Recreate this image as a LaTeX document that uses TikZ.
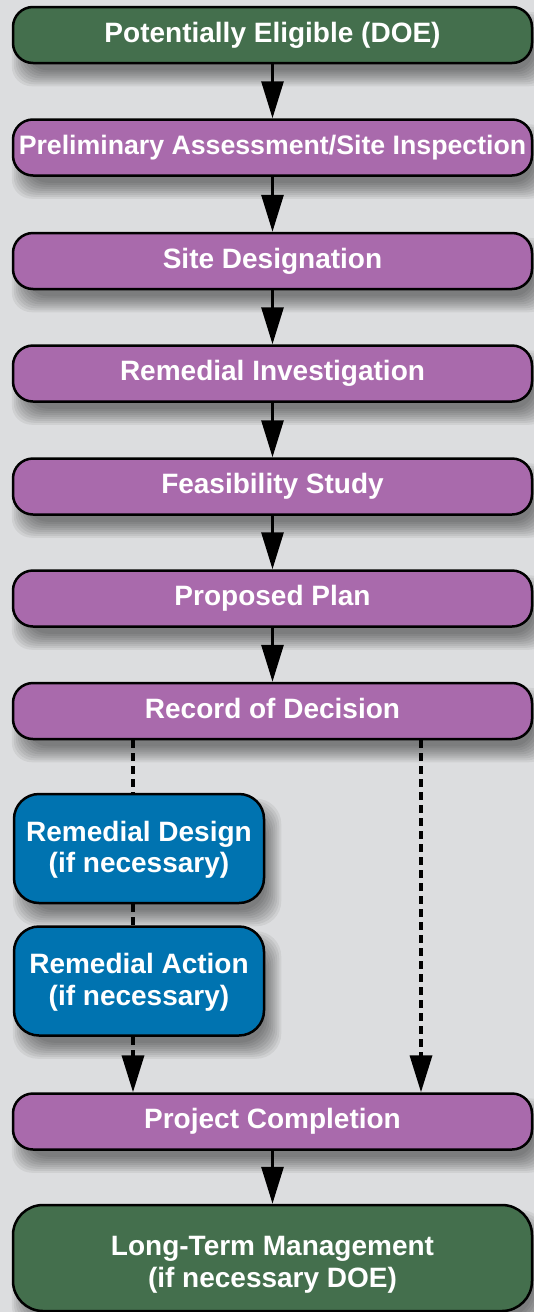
\documentclass[tikz,border=0pt]{standalone}
\usepackage{fontspec}
\setmainfont{Liberation Sans}
\usetikzlibrary{arrows.meta,backgrounds}
\definecolor{bgc}{HTML}{DCDDDF}
\definecolor{gbox}{HTML}{446F4D}
\definecolor{pbox}{HTML}{A96AAC}
\definecolor{bbox}{HTML}{0073B0}
\tikzset{
  boxbase/.style={draw=black, line width=2.5pt, text=white, font=\bfseries\fontsize{28}{31.5}\selectfont, align=center, inner sep=0pt},
  onel/.style={text height=21pt, text depth=7pt},
  pstep/.style={boxbase, onel, fill=pbox, rounded corners=20pt, minimum width=519pt, minimum height=56pt},
  gstep/.style={boxbase, fill=gbox, rounded corners=20pt, minimum width=519pt, minimum height=56pt},
  bstep/.style={boxbase, fill=bbox, rounded corners=25pt, minimum width=250pt, minimum height=109pt, text height=50pt, text depth=2pt},
  arr/.style={line width=3pt, -{Triangle[length=37pt,width=22pt]}},
  dline/.style={line width=3.5pt, dash pattern=on 8pt off 5pt},
  darr/.style={dline, -{Triangle[length=37pt,width=22pt]}}
}
\begin{document}
\begin{tikzpicture}[x=1pt,y=1pt]
\useasboundingbox (0,0) rectangle (534,-1312);
\node[gstep, onel] (n0) at (272.5,-35) {Potentially Eligible (DOE)};
\node[pstep, font=\bfseries\fontsize{26.7}{30}\selectfont] (n1) at (272.5,-147.5) {Preliminary Assessment/Site Inspection};
\node[pstep] (n2) at (272.5,-261) {Site Designation};
\node[pstep] (n3) at (272.5,-373.5) {Remedial Investigation};
\node[pstep] (n4) at (272.5,-486.5) {Feasibility Study};
\node[pstep] (n5) at (272.5,-598.5) {Proposed Plan};
\node[pstep] (n6) at (272.5,-711) {Record of Decision};
\node[bstep] (rd) at (139,-848.5) {Remedial Design\\(if necessary)};
\node[bstep] (ra) at (139,-981) {Remedial Action\\(if necessary)};
\node[pstep] (pc) at (272.5,-1121.5) {Project Completion};
\node[gstep, rounded corners=30pt, minimum height=106pt, text height=60pt, text depth=2pt] (lt) at (272.5,-1258) {Long-Term Management\\(if necessary DOE)};
\coordinate (cl) at (133,0);
\coordinate (cr) at (421,0);
\draw[arr] (n0.south) -- (n1.north);
\draw[arr] (n1.south) -- (n2.north);
\draw[arr] (n2.south) -- (n3.north);
\draw[arr] (n3.south) -- (n4.north);
\draw[arr] (n4.south) -- (n5.north);
\draw[arr] (n5.south) -- (n6.north);
\draw[arr] (pc.south) -- (lt.north);
\draw[dline] (n6.south -| cl) -- (rd.north -| cl);
\draw[dline] (rd.south -| cl) -- (ra.north -| cl);
\draw[darr] (ra.south -| cl) -- (pc.north -| cl);
\draw[darr] (n6.south -| cr) -- (pc.north -| cr);
\begin{scope}[on background layer]
  \fill[bgc] (0,0) rectangle (534,-1312);
  \foreach \n/\rc in {n0/20,n1/20,n2/20,n3/20,n4/20,n5/20,n6/20,pc/20,rd/25,ra/25,lt/30} {
    \foreach \r in {-8,-6,...,8} {
      \fill[black, opacity=0.06, rounded corners=\rc pt]
        ([shift={({8-\r},{-14-\r})}]\n.south west) rectangle ([shift={({8+\r},{-14+\r})}]\n.north east);
    }
  }
\end{scope}
\end{tikzpicture}
\end{document}
